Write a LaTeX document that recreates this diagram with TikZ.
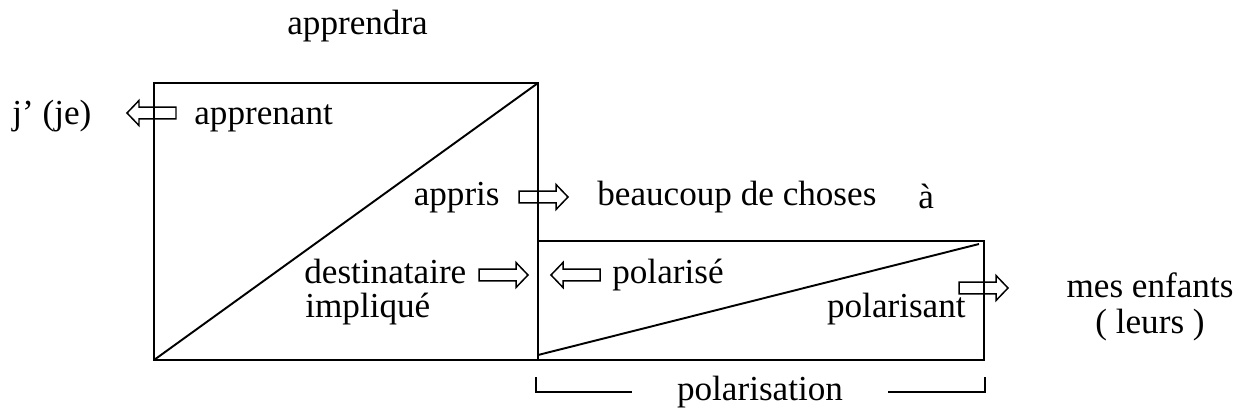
\documentclass[tikz,border=0pt]{standalone}
\usepackage{fontspec}
\setmainfont{Liberation Serif}
\usetikzlibrary{arrows.meta,positioning}
\definecolor{ink}{HTML}{000000}

\tikzset{
  lbl/.style={inner sep=0pt,anchor=base west,text=ink},
  boxline/.style={line width=1.1pt,draw=ink},
  bracketline/.style={line width=.7pt,draw=ink},
  hollowarrow/.pic={
    \draw[line width=.85pt,draw=ink] (0,-5.8)--(37,-5.8)--(37,-12.5)--(49,0)--(37,12.5)--(37,5.8)--(0,5.8)--cycle;
  }
}

\begin{document}
\begin{tikzpicture}[font=\fontsize{20}{24}\selectfont,x=.02cm,y=-.02cm,line cap=butt,line join=miter]
  \useasboundingbox (0,0) rectangle (1247,416);
  % the two boxes
  \draw[boxline] (154,83) rectangle (538,360);
  \draw[boxline] (154,360)--(538,83);
  \draw[boxline] (538,241) rectangle (984,360);
  \draw[boxline] (538,355)--(979,244);
  % hollow arrows
  \pic[rotate=180] (arrApprenant) at (176,113) {hollowarrow};
  \pic (arrAppris) at (519,197) {hollowarrow};
  \pic (arrDestinataire) at (479,275) {hollowarrow};
  \pic[rotate=180] (arrPolarise) at (600,275) {hollowarrow};
  \pic (arrPolarisant) at (959,288) {hollowarrow};
  % labels
  \node[lbl] (apprendra) at (287,34) {apprendra};
  \node[lbl] (je) at (12,124) {j’ (je)};
  \node[lbl] (apprenant) at (194,124) {apprenant};
  \node[lbl,anchor=base east] (appris) at (500,205) {appris};
  \node[lbl] (choses) at (597,205) {beaucoup de choses};
  \node[lbl] (a) at (918,208) {à};
  \node[lbl] (destinataire) at (304,283) {destinataire};
  \node[lbl] (implique) at (305,317) {impliqué};
  \node[lbl] (polarise) at (612,283) {polarisé};
  \node[lbl,anchor=base east] (polarisant) at (966,317) {polarisant};
  \node[lbl,anchor=base] (enfants) at (1150,297) {mes enfants};
  \node[lbl,anchor=base] (leurs) at (1150,333) {( leurs )};
  \node[lbl,anchor=base] (polarisation) at (760,400) {polarisation};
  % bracket under the small box
  \draw[bracketline] (536,377)--(536,392)--(632,392);
  \draw[bracketline] (888,392)--(985,392)--(985,377);
\end{tikzpicture}
\end{document}
